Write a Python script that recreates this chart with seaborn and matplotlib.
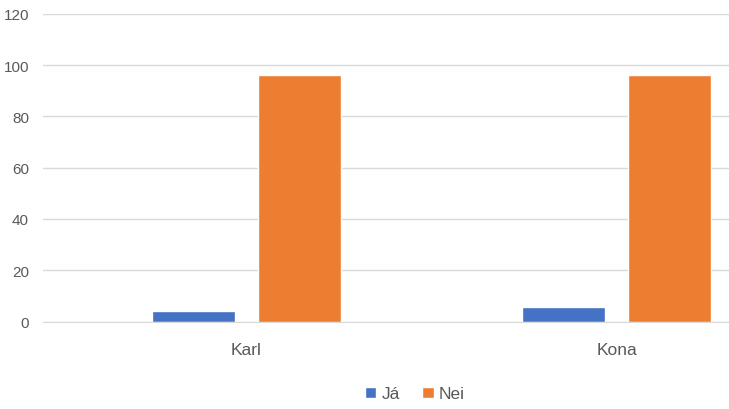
import pandas as pd
import matplotlib
matplotlib.use("Agg")
import matplotlib.pyplot as plt
import seaborn as sns

categories = ["Karl", "Kona"]
series = ["Já", "Nei"]
ja_values = [4, 5.5]
nei_values = [96, 96]

df = pd.DataFrame({
    "cat": categories * 2,
    "series": [series[0]] * 2 + [series[1]] * 2,
    "value": ja_values + nei_values,
})

sns.set_style("white")
plt.rcParams["font.family"] = ["Liberation Sans", "DejaVu Sans"]

fig = plt.figure(figsize=(7.29, 4.10), dpi=100)
ax = fig.add_axes([43 / 729, 0.2134, 1 - 43 / 729, 0.7507])

palette = {"Já": "#4472C4", "Nei": "#ED7D31"}
sns.barplot(data=df, x="cat", y="value", hue="series", palette=palette,
            width=0.572, gap=0.217, saturation=1, ax=ax, legend=True)

ax.set_ylim(0, 120)
ax.set_xlim(-0.55, 1.304)
ax.set_yticks(range(0, 121, 20))
ax.grid(axis="y", color="#D9D9D9", linewidth=1)
ax.set_axisbelow(True)
for s in ["top", "right", "left"]:
    ax.spines[s].set_visible(False)
ax.spines["bottom"].set_color("#D9D9D9")
ax.tick_params(axis="y", length=0, pad=10, labelsize=11, labelcolor="#595959")
ax.tick_params(axis="x", length=0, pad=15, labelsize=12.5, labelcolor="#595959")
ax.set_xlabel("")
ax.set_ylabel("")

handles, labels = ax.get_legend_handles_labels()
ax.get_legend().remove()
fig.legend(handles, labels, loc="center", bbox_to_anchor=(415 / 729, 1 - 395 / 410),
           ncol=2, frameon=False, fontsize=12.5, handlelength=0.65, handleheight=0.65,
           handletextpad=0.3, columnspacing=1.3, labelcolor="#595959")

fig.savefig("out.png", dpi=100)
